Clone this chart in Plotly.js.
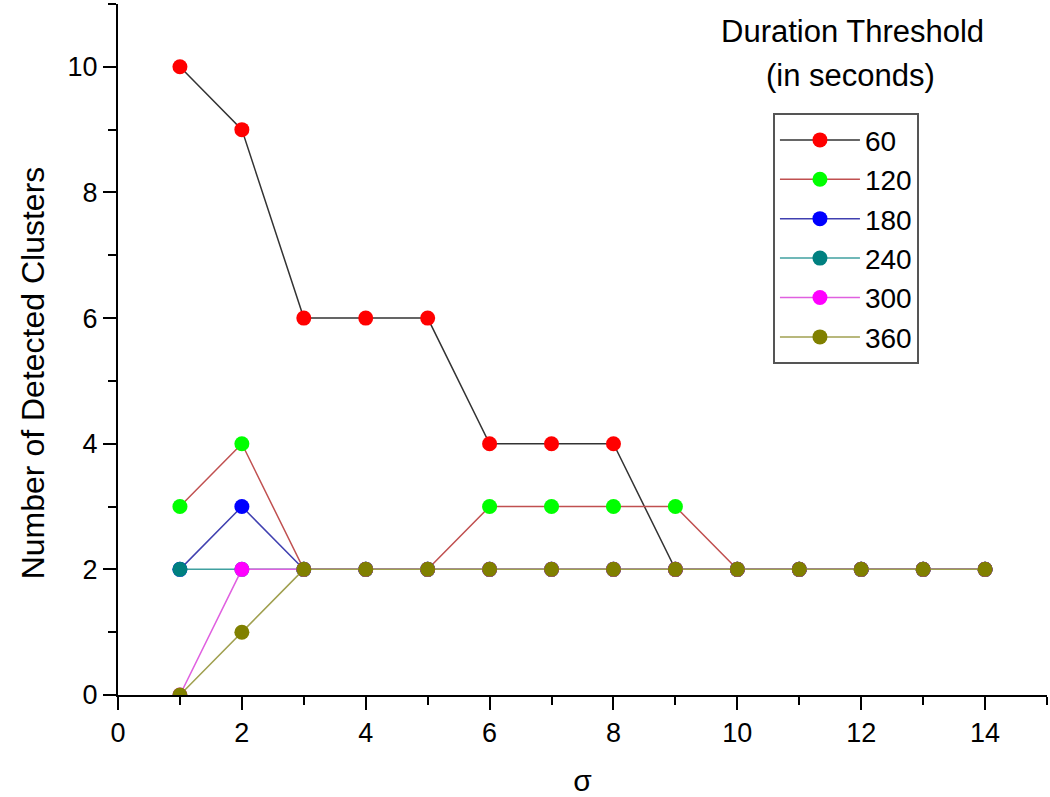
<!DOCTYPE html>
<html>
<head>
<meta charset="utf-8">
<script src="https://cdn.plot.ly/plotly-3.0.1.min.js"></script>
<style>
  html, body { margin: 0; padding: 0; background: #fff; }
  #chart { width: 1050px; height: 797px; }
</style>
</head>
<body>
<div id="chart"></div>
<script>
/* ─── Detected clusters vs sigma ─── */

const sigma = [1, 2, 3, 4, 5, 6, 7, 8, 9, 10, 11, 12, 13, 14];

const thresholds = ['60', '120', '180', '240', '300', '360'];

const clusters60  = [10, 9, 6, 6, 6, 4, 4, 4, 2, 2, 2, 2, 2, 2];
const clusters120 = [3, 4, 2, 2, 2, 3, 3, 3, 3, 2, 2, 2, 2, 2];
const clusters180 = [2, 3, 2, 2, 2, 2, 2, 2, 2, 2, 2, 2, 2, 2];
const clusters240 = [2, 2, 2, 2, 2, 2, 2, 2, 2, 2, 2, 2, 2, 2];
const clusters300 = [0, 2, 2, 2, 2, 2, 2, 2, 2, 2, 2, 2, 2, 2];
const clusters360 = [0, 1, 2, 2, 2, 2, 2, 2, 2, 2, 2, 2, 2, 2];

const seriesValues = [clusters60, clusters120, clusters180, clusters240, clusters300, clusters360];

const markerColors = ['#FF0000', '#00FF00', '#0000FF', '#008080', '#FF00FF', '#808000'];
const lineColors   = ['#333333', '#C05050', '#4040B0', '#40A0A0', '#E060E0', '#A0A050'];

const FONT = 'Liberation Sans, Arial, sans-serif';

const traces = seriesValues.map((vals, i) => ({
    x: sigma,
    y: vals,
    type: 'scatter',
    mode: 'lines+markers',
    name: thresholds[i],
    line: { color: lineColors[i], width: 1.5 },
    marker: { color: markerColors[i], size: 15 },
}));

const layout = {
    width: 1050,
    height: 797,
    margin: { l: 118, r: 3, t: 4, b: 102 },
    paper_bgcolor: '#fff',
    plot_bgcolor: '#fff',
    font: { family: FONT, color: '#000' },
    showlegend: true,
    legend: {
        x: 0.705, y: 0.842, xanchor: 'left', yanchor: 'top',
        bordercolor: '#555', borderwidth: 2,
        font: { size: 28, family: FONT },
        itemwidth: 80,
        bgcolor: '#fff',
    },
    xaxis: {
        range: [0, 15],
        tick0: 0, dtick: 2,
        ticks: 'outside', ticklen: 13, tickwidth: 2, tickcolor: '#000',
        minor: { dtick: 1, ticks: 'outside', ticklen: 8, tickwidth: 2, tickcolor: '#000' },
        showline: true, linecolor: '#000', linewidth: 2,
        showgrid: false, zeroline: false,
        tickfont: { size: 27 },
        title: { text: 'σ', font: { size: 30 }, standoff: 28 },
    },
    yaxis: {
        range: [0, 11],
        tick0: 0, dtick: 2,
        ticks: 'outside', ticklen: 13, tickwidth: 2, tickcolor: '#000',
        minor: { dtick: 1, ticks: 'outside', ticklen: 8, tickwidth: 2, tickcolor: '#000' },
        showline: true, linecolor: '#000', linewidth: 2,
        showgrid: false, zeroline: false,
        tickfont: { size: 27 },
    },
    annotations: [
        { text: 'Number of Detected Clusters', xref: 'paper', yref: 'paper', x: -0.0915, y: 0.467,
          xanchor: 'center', yanchor: 'middle', textangle: -90, showarrow: false, font: { size: 32 } },
        { text: 'Duration Threshold', xref: 'paper', yref: 'paper', x: 0.791, y: 0.9595,
          xanchor: 'center', yanchor: 'middle', showarrow: false, font: { size: 31 } },
        { text: '(in seconds)', xref: 'paper', yref: 'paper', x: 0.788, y: 0.897,
          xanchor: 'center', yanchor: 'middle', showarrow: false, font: { size: 31 } },
    ],
};

Plotly.newPlot('chart', traces, layout, { displayModeBar: false, staticPlot: true });
</script>
</body>
</html>
